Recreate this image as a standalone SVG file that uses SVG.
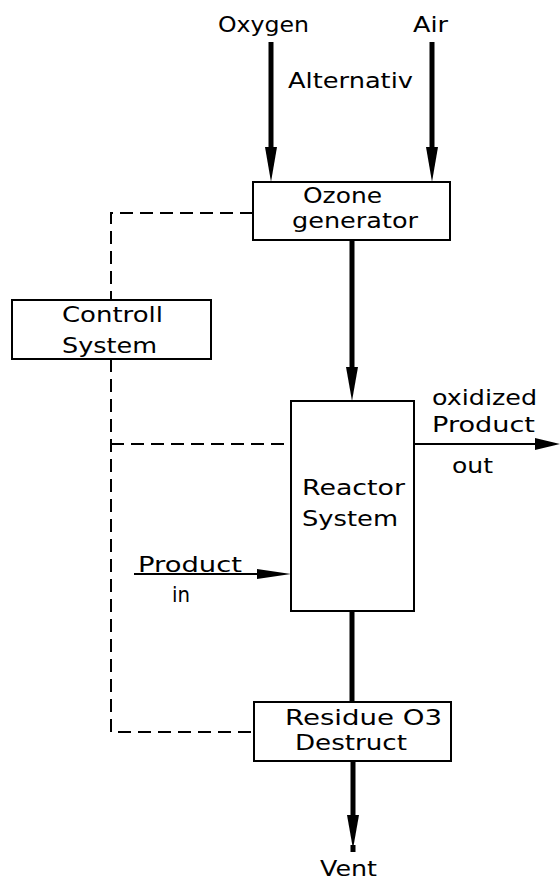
<svg xmlns="http://www.w3.org/2000/svg" width="560" height="881" viewBox="0 0 560 881">
<style>
text{font-family:"DejaVu Sans","Liberation Sans",sans-serif;font-size:22px;fill:#000}
.box{fill:#fff;stroke:#000;stroke-width:2}
.thick{stroke:#000;stroke-width:5;fill:none}
.thin{stroke:#000;stroke-width:2;fill:none}
.dash{stroke:#000;stroke-width:2;fill:none;stroke-dasharray:13 7}
.head{fill:#000;stroke:none}
</style>
<rect width="560" height="881" fill="#fff"/>
<g id="connectors">
  <path class="dash" d="M253,213 H111 V300"/>
  <path class="dash" d="M111,359 V732 H254"/>
  <path class="dash" d="M111,444 H291"/>
  <line class="thick" x1="271" y1="42" x2="271" y2="150"/>
  <polygon class="head" points="265,147 277,147 271,182"/>
  <line class="thick" x1="432" y1="42" x2="432" y2="150"/>
  <polygon class="head" points="426,147 438,147 432,182"/>
  <line class="thick" x1="352" y1="240" x2="352" y2="370"/>
  <polygon class="head" points="346,367 358,367 352,401"/>
  <line class="thick" x1="352" y1="611" x2="352" y2="703"/>
  <line class="thick" x1="353" y1="761" x2="353" y2="818"/>
  <polygon class="head" points="347,815 359,815 353,849"/>
  <line class="thick" x1="353" y1="845" x2="353" y2="852"/>
  <line class="thin" x1="414" y1="444" x2="537" y2="444"/>
  <polygon class="head" points="535,438 535,450 560,444"/>
  <line class="thin" x1="134" y1="574" x2="260" y2="574"/>
  <polygon class="head" points="257,569 257,579 291,574"/>
</g>
<g id="labels">
  <text x="218" y="32" textLength="91" lengthAdjust="spacingAndGlyphs">Oxygen</text>
  <text x="413" y="32" textLength="35" lengthAdjust="spacingAndGlyphs">Air</text>
  <text x="288" y="88" textLength="125" lengthAdjust="spacingAndGlyphs">Alternativ</text>
  <text x="432" y="405" textLength="105" lengthAdjust="spacingAndGlyphs">oxidized</text>
  <text x="432" y="432" textLength="103" lengthAdjust="spacingAndGlyphs">Product</text>
  <text x="452" y="473" textLength="41" lengthAdjust="spacingAndGlyphs">out</text>
  <text x="138" y="572" textLength="104" lengthAdjust="spacingAndGlyphs">Product</text>
  <text x="172" y="602" textLength="18" lengthAdjust="spacingAndGlyphs">in</text>
  <text x="320" y="876" textLength="57" lengthAdjust="spacingAndGlyphs">Vent</text>
</g>
<g id="ozone-generator">
  <rect class="box" x="253" y="182" width="197" height="58"/>
  <text x="303" y="203" textLength="79" lengthAdjust="spacingAndGlyphs">Ozone</text>
  <text x="292" y="228" textLength="126" lengthAdjust="spacingAndGlyphs">generator</text>
</g>
<g id="controll-system">
  <rect class="box" x="12" y="300" width="199" height="59"/>
  <text x="62" y="322" textLength="101" lengthAdjust="spacingAndGlyphs">Controll</text>
  <text x="62" y="353" textLength="95" lengthAdjust="spacingAndGlyphs">System</text>
</g>
<g id="reactor-system">
  <rect class="box" x="291" y="401" width="123" height="210"/>
  <text x="302" y="495" textLength="103" lengthAdjust="spacingAndGlyphs">Reactor</text>
  <text x="302" y="526" textLength="96" lengthAdjust="spacingAndGlyphs">System</text>
</g>
<g id="residue-destruct">
  <rect class="box" x="254" y="702" width="197" height="59"/>
  <text x="285" y="725" textLength="157" lengthAdjust="spacingAndGlyphs">Residue O3</text>
  <text x="295" y="750" textLength="112" lengthAdjust="spacingAndGlyphs">Destruct</text>
</g>
</svg>
